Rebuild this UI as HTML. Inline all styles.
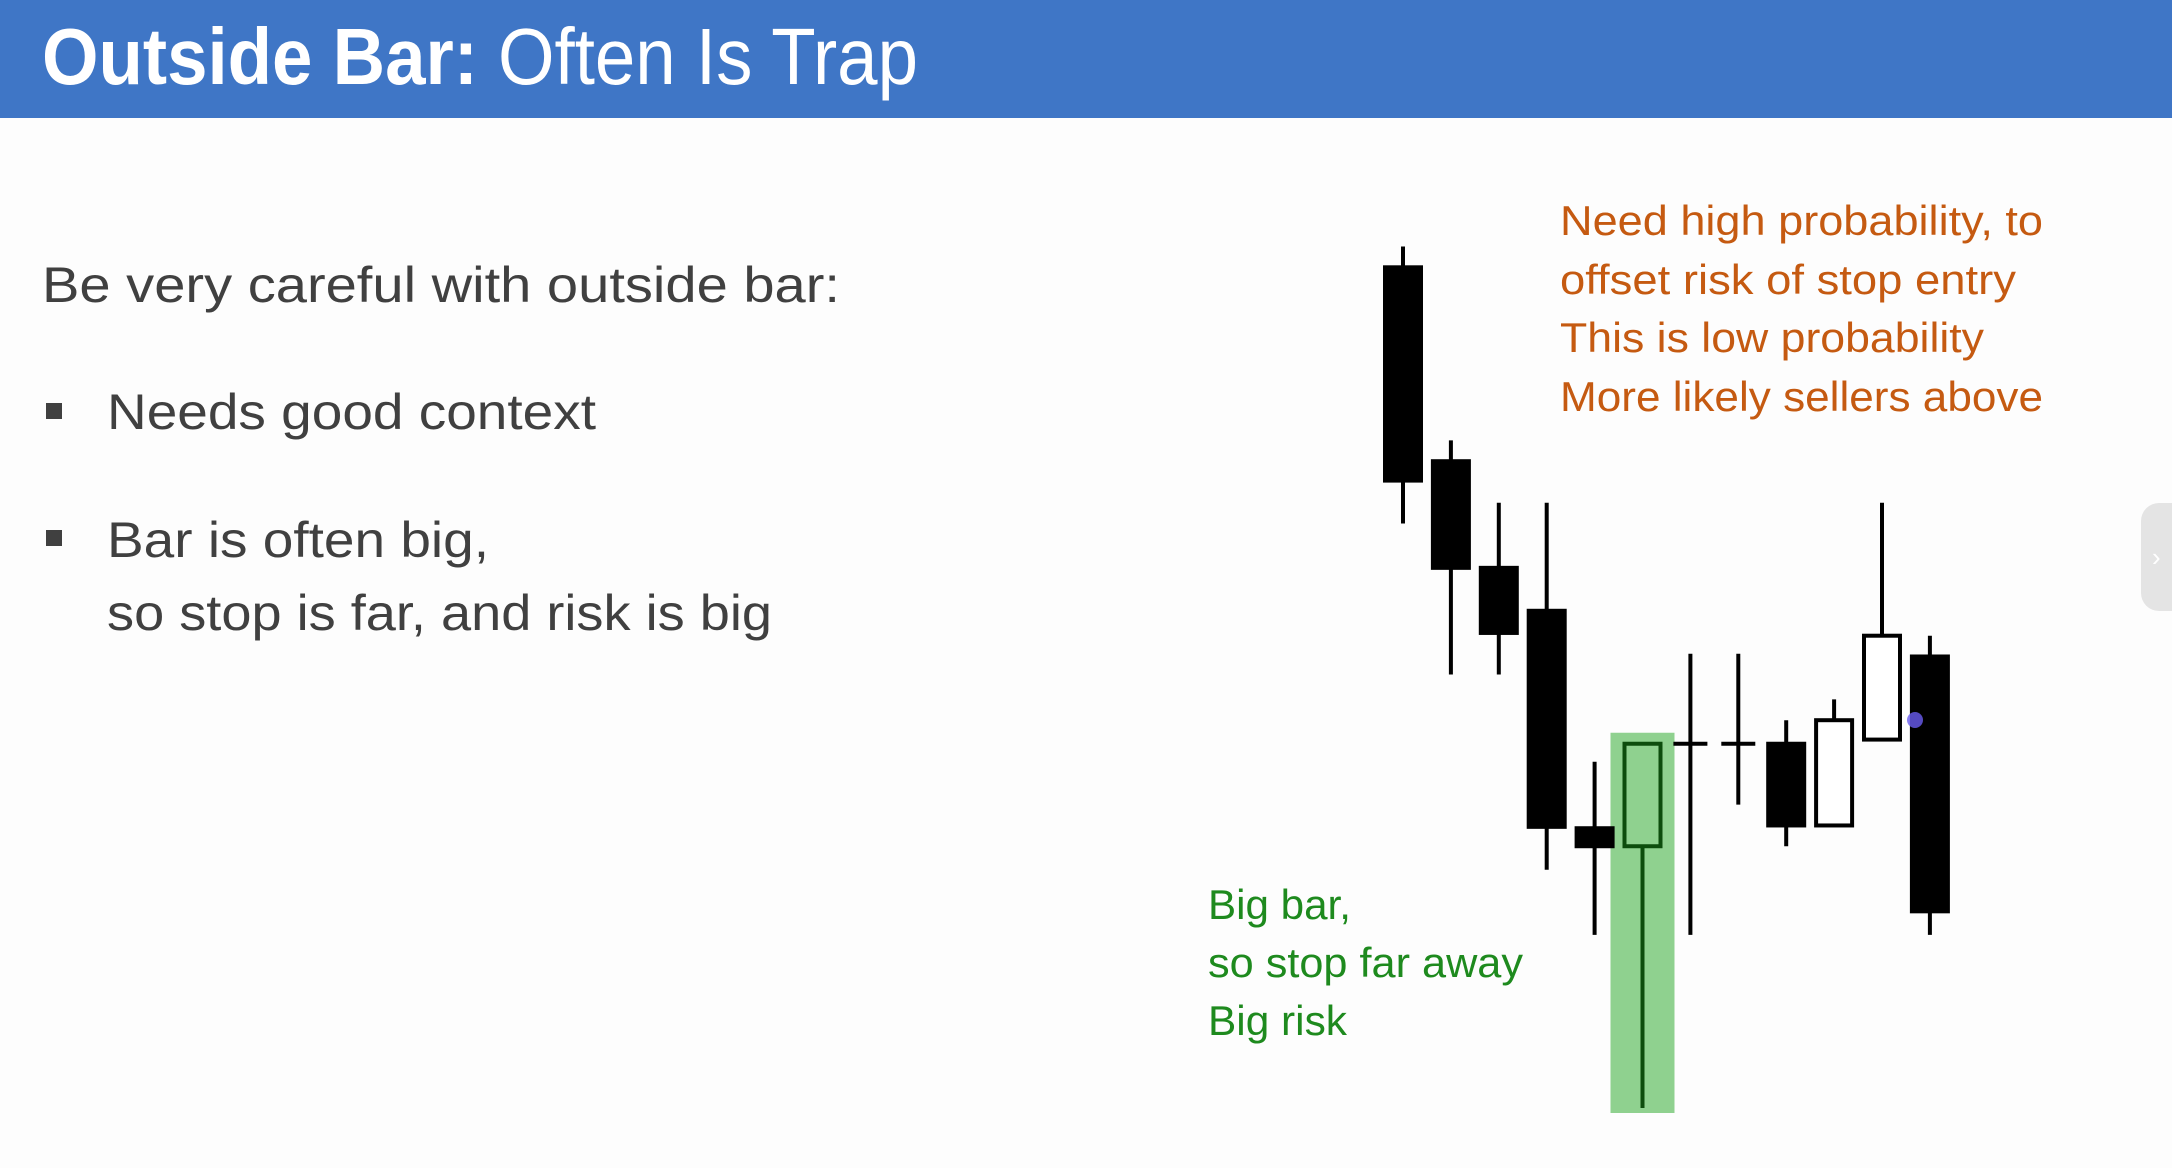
<!DOCTYPE html>
<html><head><meta charset="utf-8"><style>
html,body{margin:0;padding:0;background:#fdfdfd;}
svg{display:block;font-family:"Liberation Sans",sans-serif;}
</style></head><body>
<svg id="slide" width="2172" height="1168" viewBox="0 0 2172 1168">
<rect x="0" y="0" width="2172" height="1168" fill="#fdfdfd"/>
<rect x="0" y="0" width="2172" height="118" fill="#3f76c6"/>
<text x="42" y="84" font-size="80" fill="#fff"><tspan font-weight="bold" textLength="436" lengthAdjust="spacingAndGlyphs">Outside Bar:</tspan><tspan x="498" textLength="420" lengthAdjust="spacingAndGlyphs">Often Is Trap</tspan></text>

<g fill="#404040" font-size="50">
<text x="42" y="302" textLength="798" lengthAdjust="spacingAndGlyphs">Be very careful with outside bar:</text>
<rect x="46" y="403" width="16" height="16"/>
<text x="107" y="429" textLength="489" lengthAdjust="spacingAndGlyphs">Needs good context</text>
<rect x="46" y="530" width="16" height="16"/>
<text x="107" y="557" textLength="382" lengthAdjust="spacingAndGlyphs">Bar is often big,</text>
<text x="107" y="630" textLength="665" lengthAdjust="spacingAndGlyphs">so stop is far, and risk is big</text>
</g>

<g fill="#c55a11" font-size="42">
<text x="1560" y="235" textLength="483" lengthAdjust="spacingAndGlyphs">Need high probability, to</text>
<text x="1560" y="294" textLength="456" lengthAdjust="spacingAndGlyphs">offset risk of stop entry</text>
<text x="1560" y="352" textLength="424" lengthAdjust="spacingAndGlyphs">This is low probability</text>
<text x="1560" y="411" textLength="483" lengthAdjust="spacingAndGlyphs">More likely sellers above</text>
</g>

<g fill="#1e8a1e" font-size="42">
<text x="1208" y="919" textLength="143" lengthAdjust="spacingAndGlyphs">Big bar,</text>
<text x="1208" y="977" textLength="315" lengthAdjust="spacingAndGlyphs">so stop far away</text>
<text x="1208" y="1035" textLength="139" lengthAdjust="spacingAndGlyphs">Big risk</text>
</g>

<g id="chart"></g>

<g>
<rect x="2141" y="503" width="50" height="108" rx="18" fill="#e4e4e4"/>
<text x="2152" y="566" font-size="26" fill="#fff">›</text>
</g>
</svg>
<script>
const opens  = [807, 667, 590, 559, 402, 389, 463, 463, 463, 404, 466, 526];
const highs  = [822, 682, 637, 637, 450, 463, 528, 528, 480, 495, 637, 541];
const lows   = [622, 513, 513, 372, 325, 200, 325, 419, 389, 404, 466, 325];
const closes = [653, 590, 543, 403, 389, 463, 463, 463, 404, 480, 541, 342];
const highlightIndex = 5;

const NS = 'http://www.w3.org/2000/svg';
const chart = document.getElementById('chart');
function xScale(i){ return 1403 + i * 47.9; }
function yScale(p){ return (1000 - p) * 1.385; }
function mk(tag, attrs){ const e = document.createElementNS(NS, tag); for (const k in attrs) e.setAttribute(k, attrs[k]); chart.appendChild(e); return e; }

// highlight behind outside bar
{
  const cx = xScale(highlightIndex);
  const top = Math.max(opens[highlightIndex], closes[highlightIndex]);
  const hl = mk('rect', {x: cx - 32, y: yScale(top) - 11, width: 64, height: yScale(lows[highlightIndex]) - yScale(top) + 16, fill: '#8fd18f'});
  
  
}

for (let i = 0; i < opens.length; i++) {
  const cx = xScale(i);
  const col = i === highlightIndex ? '#0d4d0d' : '#000';
  const w = mk('line', {x1: cx, x2: cx, y1: yScale(highs[i]), y2: yScale(lows[i]), stroke: col, 'stroke-width': 4});
  
  
  const o = opens[i], c = closes[i];
  if (o === c) {
    const d = mk('line', {x1: cx - 17, x2: cx + 17, y1: yScale(o), y2: yScale(o), stroke: col, 'stroke-width': 4});
    
    
  } else {
    const top = Math.max(o, c), bot = Math.min(o, c);
    const bull = c > o;
    const fill = bull ? (i === highlightIndex ? '#8fd18f' : '#fff') : '#000';
    const b = mk('rect', {x: cx - 18, y: yScale(top), width: 36, height: yScale(bot) - yScale(top), fill: fill, stroke: col, 'stroke-width': 4});
    
    
  }
}
const dot = mk('circle', {cx: 1915, cy: 720, r: 8, fill: '#6a5cf0', opacity: 0.8});


</script>
</body></html>
